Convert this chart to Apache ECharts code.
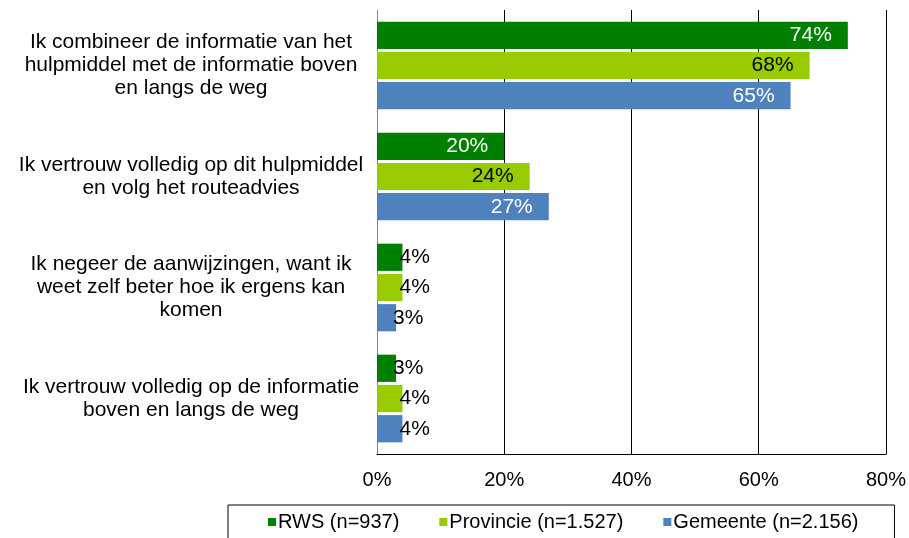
<!DOCTYPE html>
<html>
<head>
<meta charset="utf-8">
<script src="https://cdn.jsdelivr.net/npm/echarts@6/dist/echarts.min.js"></script>
<style>
html, body { margin: 0; padding: 0; background: #fff; }
#chart { width: 909px; height: 538px; }
</style>
</head>
<body>
<div id="chart"></div>
<script>
var categories = [
	'Ik combineer de informatie van het\nhulpmiddel met de informatie boven\nen langs de weg',
	'Ik vertrouw volledig op dit hulpmiddel\nen volg het routeadvies',
	'Ik negeer de aanwijzingen, want ik\nweet zelf beter hoe ik ergens kan\nkomen',
	'Ik vertrouw volledig op de informatie\nboven en langs de weg'
];
var seriesNames = ['RWS (n=937)', 'Provincie (n=1.527)', 'Gemeente (n=2.156)'];
var rws = [74, 20, 4, 3];
var provincie = [68, 24, 4, 4];
var gemeente = [65, 27, 3, 4];
var xTicks = [0, 20, 40, 60, 80];

var colors = ['#008000', '#99cc00', '#4f81bd'];
var labelColors = ['#ffffff', '#000000', '#ffffff'];
var fontFam = 'Liberation Sans, Arial, sans-serif';

function buildData(values, idx) {
	var out = [];
	for (var i = 0; i < values.length; i++) {
		var v = values[i];
		if (v >= 10) {
			out.push({ value: v, label: { position: 'insideRight', distance: 16, color: labelColors[idx] } });
		} else {
			out.push({ value: v, label: { position: 'right', distance: -3, color: '#000' } });
		}
	}
	return out;
}

var chart = echarts.init(document.getElementById('chart'));
var series = [];
var all = [rws, provincie, gemeente];
for (var s = 0; s < 3; s++) {
	series.push({
		name: seriesNames[s],
		type: 'bar',
		data: buildData(all[s], s),
		itemStyle: { color: colors[s] },
		barCategoryGap: '21%',
		barGap: '11%',
		label: {
			show: true,
			formatter: '{c}%',
			fontSize: 21,
			fontFamily: fontFam
		}
	});
}

var option = {
	animation: false,
	color: colors,
	grid: { left: 377, right: 23, top: 10, bottom: 84, containLabel: false },
	legend: {
		data: seriesNames,
		left: 228,
		top: 505,
		orient: 'horizontal',
		itemWidth: 8,
		itemHeight: 8,
		itemGap: 40,
		icon: 'rect',
		padding: [7, 36, 20, 40],
		borderColor: '#000',
		borderWidth: 1,
		textStyle: { fontSize: 20, color: '#000', fontFamily: fontFam, padding: [0, 0, 0, -3] }
	},
	xAxis: {
		type: 'value',
		min: 0,
		max: 80,
		interval: 20,
		axisLine: { show: true, lineStyle: { color: '#000' } },
		axisTick: { show: false },
		splitLine: { show: true, lineStyle: { color: '#000', width: 1 } },
		axisLabel: {
			formatter: function (v) { return xTicks.indexOf(v) >= 0 ? v + '%' : ''; },
			fontSize: 20,
			color: '#000',
			margin: 16,
			fontFamily: fontFam
		}
	},
	yAxis: {
		type: 'category',
		inverse: true,
		data: categories,
		axisLine: { show: true, lineStyle: { color: '#868686' } },
		axisTick: { show: false },
		axisLabel: {
			align: 'center',
			margin: 186,
			fontSize: 21,
			lineHeight: 23,
			color: '#000',
			fontFamily: fontFam
		}
	},
	series: series
};
chart.setOption(option);
</script>
</body>
</html>
